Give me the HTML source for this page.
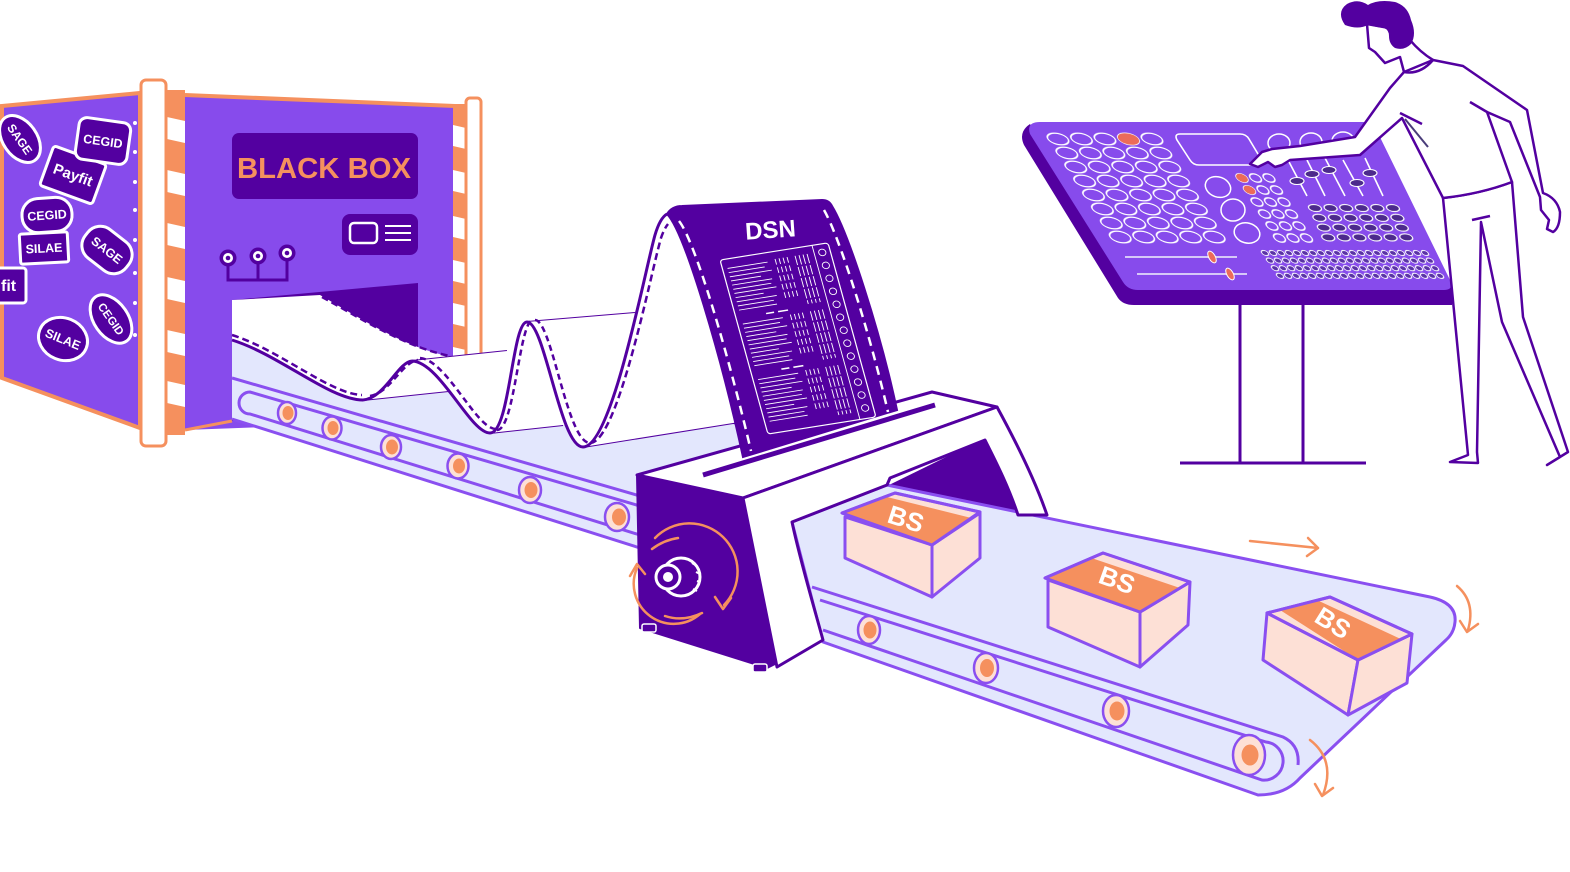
<!DOCTYPE html>
<html><head><meta charset="utf-8">
<style>
html,body{margin:0;padding:0;background:#fff;}
svg{display:block;}
text{font-family:"Liberation Sans",sans-serif;font-weight:bold;}
</style></head><body>
<svg width="1570" height="872" viewBox="0 0 1570 872" xmlns="http://www.w3.org/2000/svg">
<defs>
  <pattern id="pGridL" patternUnits="userSpaceOnUse" x="957.98" y="132" width="23.5" height="14">
    <ellipse cx="11.75" cy="7" rx="10" ry="5.8" fill="none" stroke="#fff" stroke-width="1.4"/>
  </pattern>
  <pattern id="pBtn" patternUnits="userSpaceOnUse" x="1124" y="172" width="13.5" height="12">
    <ellipse cx="6.75" cy="6" rx="5.3" ry="4.2" fill="none" stroke="#fff" stroke-width="1.3"/>
  </pattern>
  <pattern id="pDark" patternUnits="userSpaceOnUse" x="1213.6" y="203.1" width="15.6" height="9.8">
    <ellipse cx="7.8" cy="4.9" rx="6.3" ry="3.6" fill="#4c2a8c" stroke="#fff" stroke-width="1.1"/>
  </pattern>
  <pattern id="pSmall" patternUnits="userSpaceOnUse" x="1094" y="249.2" width="8" height="7.6">
    <ellipse cx="4" cy="3.8" rx="3.2" ry="2.6" fill="#5a33a6" stroke="#fff" stroke-width="1"/>
  </pattern>
</defs>

<!-- ================= BLACK BOX ================= -->
<path d="M2,106 L140,93 L140,428 L2,378 Z" fill="#874bec" stroke="#f5905e" stroke-width="4"/>
<g fill="#fff">
  <circle cx="135" cy="123" r="2"/><circle cx="135" cy="152" r="2"/><circle cx="135" cy="182" r="2"/>
  <circle cx="135" cy="210" r="2"/><circle cx="135" cy="240" r="2"/><circle cx="135" cy="273" r="2"/>
  <circle cx="135" cy="303" r="2"/><circle cx="135" cy="335" r="2"/>
</g>
<g fill="#5300a0" stroke="#fff" stroke-width="3">
  <g transform="translate(20,139) rotate(55)"><ellipse rx="26" ry="17"/><text x="0" y="4.5" font-size="12" fill="#fff" stroke="none" text-anchor="middle">SAGE</text></g>
  <g transform="translate(73,175) rotate(20)"><rect x="-28" y="-21" width="56" height="42" rx="3"/><text x="0" y="5" font-size="15" fill="#fff" stroke="none" text-anchor="middle">Payfit</text></g>
  <g transform="translate(103,141) rotate(8)"><rect x="-26" y="-21" width="52" height="42" rx="8"/><text x="0" y="4.5" font-size="12.5" fill="#fff" stroke="none" text-anchor="middle">CEGID</text></g>
  <g transform="translate(47,215) rotate(-4)"><rect x="-25" y="-17" width="50" height="34" rx="16"/><text x="0" y="4.5" font-size="12.5" fill="#fff" stroke="none" text-anchor="middle">CEGID</text></g>
  <g transform="translate(44,248) rotate(-3)"><rect x="-24" y="-15" width="48" height="30" rx="2"/><text x="0" y="4.5" font-size="12.5" fill="#fff" stroke="none" text-anchor="middle">SILAE</text></g>
  <g transform="translate(107,250) rotate(38)"><rect x="-26" y="-18" width="52" height="36" rx="16"/><text x="0" y="4.5" font-size="12.5" fill="#fff" stroke="none" text-anchor="middle">SAGE</text></g>
  <g><rect x="-10" y="268" width="36" height="35" rx="3"/><text x="1" y="291" font-size="16" fill="#fff" stroke="none">fit</text></g>
  <g transform="translate(111,319) rotate(55)"><ellipse rx="27" ry="17"/><text x="0" y="4" font-size="11.5" fill="#fff" stroke="none" text-anchor="middle">CEGID</text></g>
  <g transform="translate(63,339) rotate(22)"><ellipse rx="25" ry="21"/><text x="0" y="4.5" font-size="12.5" fill="#fff" stroke="none" text-anchor="middle">SILAE</text></g>
</g>
<rect x="166" y="90" width="19" height="345" fill="#f5905e"/>
<g fill="#fff">
  <polygon points="167,117 185,121 185,143 167,139"/>
  <polygon points="167,170 185,174 185,196 167,192"/>
  <polygon points="167,223 185,227 185,249 167,245"/>
  <polygon points="167,277 185,281 185,303 167,299"/>
  <polygon points="167,330 185,334 185,356 167,352"/>
  <polygon points="167,381 185,385 185,407 167,403"/>
</g>
<rect x="141" y="80" width="25" height="366" rx="5" fill="#fff" stroke="#f5905e" stroke-width="3"/>

<path d="M185,95 L455,106 L455,420 L185,430 Z" fill="#874bec"/>
<path d="M185,95 L455,106" stroke="#f5905e" stroke-width="4" fill="none"/>
<path d="M185,430 L232,421" stroke="#f5905e" stroke-width="3" fill="none"/>
<rect x="232" y="133" width="186" height="66" rx="7" fill="#5300a0"/>
<text x="324" y="178" font-size="29" fill="#f5905e" text-anchor="middle" textLength="174" lengthAdjust="spacingAndGlyphs">BLACK BOX</text>
<rect x="342" y="214" width="76" height="41" rx="8" fill="#5300a0"/>
<rect x="350" y="223" width="27" height="20" rx="4" fill="none" stroke="#fff" stroke-width="2.5"/>
<path d="M385,226 H411 M385,233 H411 M385,240 H411" stroke="#fff" stroke-width="2"/>
<path d="M228,266 V280 H287 V261 M258,264 V280" stroke="#5300a0" stroke-width="3" fill="none"/>
<g fill="#5300a0"><circle cx="228" cy="258" r="8.5"/><circle cx="258" cy="256" r="8.5"/><circle cx="287" cy="253" r="8.5"/></g>
<g fill="#fff"><circle cx="228" cy="258" r="5"/><circle cx="258" cy="256" r="5"/><circle cx="287" cy="253" r="5"/></g>
<g fill="#5300a0"><circle cx="228" cy="258" r="2.3"/><circle cx="258" cy="256" r="2.3"/><circle cx="287" cy="253" r="2.3"/></g>
<path d="M232,300 L418,283 L418,420 L232,421 Z" fill="#5300a0"/>

<rect x="453" y="104" width="13" height="300" fill="#f5905e"/>
<g fill="#fff">
  <polygon points="453,125 466,128 466,149 453,146"/>
  <polygon points="453,170 466,173 466,194 453,191"/>
  <polygon points="453,216 466,219 466,240 453,237"/>
  <polygon points="453,260 466,263 466,284 453,281"/>
  <polygon points="453,303 466,306 466,327 453,324"/>
  <polygon points="453,347 466,350 466,371 453,368"/>
</g>
<rect x="466" y="98" width="15" height="300" rx="4" fill="#fff" stroke="#f5905e" stroke-width="3"/>

<!-- ================= CONTROL PANEL ================= -->
<path d="M1240,300 V463 M1303,300 V463 M1180,463 H1366" stroke="#5300a0" stroke-width="3" fill="none"/>
<path d="M1030,124 Q1018,132 1024,145 L1118,298 Q1123,305 1134,305 L1452,305 L1452,284 L1130,284 Z" fill="#5300a0"/>
<path d="M1040,122 L1365,122 Q1372,122 1376,129 L1450,280 Q1454,290 1444,290 L1138,290 Q1128,290 1123,282 L1030,134 Q1026,122 1040,122 Z" fill="#874bec"/>
<g transform="matrix(1,0,0.635,1,0,0)">
  <rect x="957.98" y="132" width="117.5" height="112" fill="url(#pGridL)"/>
  <ellipse cx="1040.23" cy="139" rx="10" ry="5.8" fill="#ec6b5a"/>
</g>
<path d="M1180,134 L1240,134 Q1246,134 1249,139 L1261,159 Q1264,165 1257,165 L1199,165 Q1193,165 1190,160 L1177,140 Q1174,134 1180,134 Z" fill="none" stroke="#fff" stroke-width="1.6"/>
<g fill="none" stroke="#fff" stroke-width="1.5">
  <ellipse cx="1279" cy="143" rx="11" ry="9"/>
  <ellipse cx="1311" cy="142" rx="11" ry="9"/>
  <ellipse cx="1343" cy="141" rx="11" ry="9"/>
  <ellipse cx="1218" cy="187" rx="13" ry="10" transform="rotate(20 1218 187)"/>
  <ellipse cx="1233" cy="210" rx="12" ry="11"/>
  <ellipse cx="1247" cy="233" rx="13" ry="10" transform="rotate(15 1247 233)"/>
</g>
<g transform="matrix(1,0,0.625,1,0,0)">
  <rect x="1124" y="172" width="40.5" height="72" fill="url(#pBtn)"/>
  <ellipse cx="1130.75" cy="178" rx="5.3" ry="4.2" fill="#ec6b5a"/>
  <ellipse cx="1130.75" cy="190" rx="5.3" ry="4.2" fill="#ec6b5a"/>
</g>
<g stroke="#fff" stroke-width="1.6">
  <path d="M1288,160 L1307,196 M1307,160 L1325,196 M1325,158 L1345,196 M1343,160 L1363,196 M1365,158 L1383,196"/>
</g>
<g fill="#4c2a8c" stroke="#fff" stroke-width="1.1">
  <ellipse cx="1297" cy="181" rx="7" ry="3.5"/>
  <ellipse cx="1312" cy="174" rx="7" ry="3.5"/>
  <ellipse cx="1329" cy="170" rx="7" ry="3.5"/>
  <ellipse cx="1357" cy="183" rx="7" ry="3.5"/>
  <ellipse cx="1370" cy="173" rx="7" ry="3.5"/>
</g>
<g transform="matrix(1,0,0.45,1,0,0)">
  <rect x="1213.6" y="203.1" width="93.6" height="39.2" fill="url(#pDark)"/>
</g>
<g transform="matrix(1,0,0.66,1,0,0)">
  <rect x="1094" y="249.2" width="168" height="30.4" fill="url(#pSmall)"/>
</g>
<path d="M1125,257 H1237 M1137,274 H1247" stroke="#d6c8f8" stroke-width="2"/>
<ellipse cx="1212" cy="257" rx="3.2" ry="6.5" transform="rotate(-30 1212 257)" fill="#ec6b5a" stroke="#fff" stroke-width="1"/>
<ellipse cx="1230" cy="274" rx="3.2" ry="6.5" transform="rotate(-30 1230 274)" fill="#ec6b5a" stroke="#fff" stroke-width="1"/>

<!-- ================= PERSON ================= -->
<g fill="#fff" stroke="#5300a0" stroke-width="2.5" stroke-linejoin="round">
  <path d="M1443,198 L1468,455 L1450,462 L1478,463 L1477,452 L1481,222 L1502,322 L1560,457 L1547,465 L1568,452 L1523,317 L1512,182 Q1480,194 1443,198 Z"/>
  <path d="M1404,72 Q1420,75 1433,60 L1463,66 L1527,110 L1543,193 Q1557,198 1560,212 Q1560,228 1553,232 L1547,229 L1549,220 L1541,210 L1540,197 L1510,122 L1487,112 L1512,182 Q1480,194 1443,198 L1402,118 L1360,155 L1290,160 L1282,165 L1275,167 L1268,162 L1258,167 L1250,164 L1262,152 L1272,149 L1300,146 L1355,137 L1390,88 Z"/>
  <path d="M1367,24 L1369,48 L1375,52 L1385,63 L1400,57 L1404,72 L1433,60 Q1420,52 1410,40 L1400,30 Z"/>
</g>
<g fill="none" stroke="#5300a0" stroke-width="2.5">
  <path d="M1470,102 L1487,112"/>
  <path d="M1472,220 L1490,216"/>
  <path d="M1400,113 L1422,124"/>
</g>
<path d="M1405,119 L1428,147" stroke="#4a3d7a" stroke-width="2"/>
<path d="M1345,25 Q1336,12 1347,4 Q1358,-2 1368,5 Q1378,-1 1395,2 Q1408,6 1411,20 Q1417,34 1411,44 Q1404,51 1395,48 Q1389,44 1389,36 Q1389,30 1384,28 Q1376,27 1368,25 Q1358,30 1345,25 Z" fill="#5300a0"/>

<!-- ================= LEFT CONVEYOR ================= -->
<path d="M232,337 L745,425 L745,520 L637,548 L232,419 Z" fill="#e3e7fd"/>
<path d="M232,337 L745,425" stroke="#5300a0" stroke-width="2" fill="none"/>
<g fill="none" stroke="#8a4ff0" stroke-width="3">
  <path d="M232,378 L640,496"/>
  <path d="M640,506 L250,392 A11,11 0 0 0 250,414 L640,535"/>
  <path d="M232,419 L640,548"/>
</g>
<g stroke="#8a4ff0" stroke-width="2.5" fill="#fde0d6">
  <ellipse cx="287" cy="413" rx="9" ry="11"/>
  <ellipse cx="332" cy="428" rx="9.5" ry="11.5"/>
  <ellipse cx="391" cy="447" rx="10" ry="12"/>
  <ellipse cx="458" cy="466" rx="10.5" ry="12.5"/>
  <ellipse cx="530" cy="490" rx="11" ry="13"/>
  <ellipse cx="617" cy="517" rx="12" ry="14"/>
</g>
<g fill="#f5905e">
  <ellipse cx="288" cy="413" rx="5.5" ry="7"/>
  <ellipse cx="333" cy="428" rx="5.5" ry="7"/>
  <ellipse cx="392" cy="447" rx="6" ry="7.5"/>
  <ellipse cx="459" cy="466" rx="6" ry="7.5"/>
  <ellipse cx="531" cy="490" rx="6.5" ry="8"/>
  <ellipse cx="619" cy="517" rx="7" ry="8.5"/>
</g>

<!-- ================= PAPER ================= -->
<g stroke-linejoin="round">
  <path d="M232,300 L320,295 C360,318 405,348 452,357 L458,390 L363,400 C330,400 280,355 232,340 Z" fill="#fff"/>
  <path d="M232,340 C280,355 330,400 363,400" stroke="#5300a0" stroke-width="3" fill="none"/>
  <path d="M232,335 C280,350 330,394 362,395" stroke="#5300a0" stroke-width="2.5" stroke-dasharray="7 4" fill="none"/>
  <path d="M322,297 C362,319 405,347 450,356" stroke="#5300a0" stroke-width="2.5" stroke-dasharray="7 4" fill="none"/>
  <path d="M363,400 L458,390" stroke="#5300a0" stroke-width="2" fill="none"/>
  <path d="M363,400 C385,398 398,362 412,361 L507,351 C493,352 480,388 458,390 Z" fill="#fff"/>
  <path d="M363,400 C385,398 398,362 412,361" stroke="#5300a0" stroke-width="3" fill="none"/>
  <path d="M370,396 C390,393 402,362 418,360" stroke="#5300a0" stroke-width="2.5" stroke-dasharray="6 4" fill="none"/>
  <path d="M412,361 L507,351" stroke="#5300a0" stroke-width="2" fill="none"/>
  <path d="M412,361 C440,362 470,433 490,433 L563,425 C540,424 530,352 507,351 Z" fill="#fff"/>
  <path d="M412,361 C440,362 470,433 490,433" stroke="#5300a0" stroke-width="3" fill="none"/>
  <path d="M420,358 C447,360 476,429 496,429" stroke="#5300a0" stroke-width="2.5" stroke-dasharray="6 4" fill="none"/>
  <path d="M490,433 L563,425" stroke="#5300a0" stroke-width="2" fill="none"/>
  <path d="M490,433 C510,433 512,322 527,322 L635,313 C620,313 590,425 563,425 Z" fill="#fff"/>
  <path d="M490,433 C510,433 512,322 527,322" stroke="#5300a0" stroke-width="3" fill="none"/>
  <path d="M497,430 C515,430 519,320 533,320" stroke="#5300a0" stroke-width="2.5" stroke-dasharray="6 4" fill="none"/>
  <path d="M527,322 L635,313" stroke="#5300a0" stroke-width="2" fill="none"/>
  <path d="M527,322 C545,322 560,447 583,447 L733,423 C700,423 660,313 635,313 Z" fill="#fff"/>
  <path d="M527,322 C545,322 560,447 583,447" stroke="#5300a0" stroke-width="3" fill="none"/>
  <path d="M535,320 C552,320 567,443 590,443" stroke="#5300a0" stroke-width="2.5" stroke-dasharray="6 4" fill="none"/>
  <path d="M583,447 L733,423" stroke="#5300a0" stroke-width="2" fill="none"/>
  <path d="M583,447 C612,447 645,270 655,235 Q660,218 667,214 L832,204 C800,240 770,420 733,423 Z" fill="#fff"/>
  <path d="M583,447 C612,447 645,270 655,235 Q660,218 667,214" stroke="#5300a0" stroke-width="3" fill="none"/>
  <path d="M590,443 C618,443 651,272 661,238 Q664,229 668,224" stroke="#5300a0" stroke-width="2.5" stroke-dasharray="7 4" fill="none"/>
</g>

<path d="M885,487 L987,437 L1022,518 L900,520 Z" fill="#5300a0"/>

<!-- ================= RIGHT CONVEYOR ================= -->
<path d="M792,522 L887,485 L1430,597 Q1457,603 1455,622 Q1454,633 1446,640 L1300,778 Q1285,795 1258,795 L823,642 Z" fill="#e3e7fd" stroke="#8a4ff0" stroke-width="3" stroke-linejoin="round"/>
<g fill="none" stroke="#8a4ff0" stroke-width="3">
  <path d="M812,587 L1283,737 Q1300,745 1298,765"/>
  <path d="M820,600 L1266,742 A19,19 0 0 1 1262,780 L823,630"/>
</g>
<g stroke="#8a4ff0" stroke-width="2.5" fill="#fde0d6">
  <ellipse cx="869" cy="630" rx="11" ry="14"/>
  <ellipse cx="986" cy="668" rx="12" ry="15"/>
  <ellipse cx="1116" cy="711" rx="13" ry="16"/>
  <ellipse cx="1249" cy="755" rx="16" ry="20"/>
</g>
<g fill="#f5905e">
  <ellipse cx="870" cy="630" rx="6.5" ry="8.5"/>
  <ellipse cx="987" cy="668" rx="7" ry="9"/>
  <ellipse cx="1117" cy="711" rx="7.5" ry="9.5"/>
  <ellipse cx="1250" cy="755" rx="8.5" ry="10.5"/>
</g>

<!-- ================= PRINTER ================= -->
<path d="M637,475 L932,392 L997,407 L743,498 Z" fill="#fff" stroke="#5300a0" stroke-width="3" stroke-linejoin="round"/>
<path d="M703,475 L935,405" stroke="#5300a0" stroke-width="5"/>

<path d="M667,214 Q672,206 682,206 L822,200 Q829,200 832,206 C848,232 880,330 897,410 L743,457 C722,360 685,232 667,214 Z" fill="#5300a0" stroke="#5300a0" stroke-width="2"/>
<path d="M679,221 C696,242 731,365 751,451" stroke="#fff" stroke-width="2.5" stroke-dasharray="9 6" fill="none"/>
<path d="M824,210 C839,236 869,330 888,412" stroke="#fff" stroke-width="2.5" stroke-dasharray="9 6" fill="none"/>
<text x="771" y="238" font-size="24" fill="#fff" text-anchor="middle" transform="rotate(-4 771 238)">DSN</text>
<g transform="matrix(1,-0.159,0.255,0.926,720,260)" fill="none" stroke="#fff">
  <rect x="0" y="0" width="108" height="188" rx="3" stroke-width="1.2"/>
  <path d="M92,0 V188" stroke-width="0.9"/>
  <g stroke-width="0.9">
    <circle cx="100" cy="9" r="3.5"/><circle cx="100" cy="23" r="3.5"/><circle cx="100" cy="37" r="3.5"/>
    <circle cx="100" cy="51" r="3.5"/><circle cx="100" cy="65" r="3.5"/><circle cx="100" cy="79" r="3.5"/>
    <circle cx="100" cy="93" r="3.5"/><circle cx="100" cy="107" r="3.5"/><circle cx="100" cy="121" r="3.5"/>
    <circle cx="100" cy="135" r="3.5"/><circle cx="100" cy="149" r="3.5"/><circle cx="100" cy="163" r="3.5"/>
    <circle cx="100" cy="177" r="3.5"/>
  </g>
  <g stroke-width="0.9">
    <path d="M5,10h40M5,14.5h36M5,19h42M5,23.5h30M5,28h40M5,32.5h38M5,37h42M5,41.5h28M5,46h40M5,50.5h36M5,55h38"/>
    <path d="M5,70h40M5,74.5h36M5,79h42M5,83.5h30M5,88h40M5,92.5h38M5,97h42M5,101.5h28M5,106h40M5,110.5h36M5,115h38"/>
    <path d="M5,130h40M5,134.5h36M5,139h42M5,143.5h30M5,148h40M5,152.5h38M5,157h42M5,161.5h28M5,166h40M5,170.5h36M5,175h38"/>
    <path d="M30,63h8M42,63h10M30,123h8M42,123h10" stroke-width="1.6"/>
  </g>
  <g stroke-width="0.9" stroke-dasharray="6 3">
    <path d="M53,8v45M57,8v45M61,8v45M65,8v45M53,68v45M57,68v45M61,68v45M65,68v45M53,128v45M57,128v45M61,128v45M65,128v45"/>
  </g>
  <g stroke-width="0.9" stroke-dasharray="10 2">
    <path d="M73,8v52M77,8v52M81,8v52M85,8v52M73,68v52M77,68v52M81,68v52M85,68v52M73,128v52M77,128v52M81,128v52M85,128v52"/>
  </g>
</g>

<path d="M637,475 L743,498 C755,560 768,620 777,663 L767,668 L640,628 Z" fill="#5300a0" stroke="#5300a0" stroke-width="2" stroke-linejoin="round"/>
<rect x="642" y="624" width="14" height="8" rx="2" fill="#5300a0" stroke="#fff" stroke-width="1.5"/>
<rect x="753" y="664" width="14" height="8" rx="2" fill="#5300a0" stroke="#fff" stroke-width="1.5"/>
<circle cx="681" cy="577" r="19" fill="#5300a0" stroke="#fff" stroke-width="3"/>
<path d="M692,563 L697,566 M696,572 L700,574 M697,581 L700,582 M693,589 L697,591" stroke="#fff" stroke-width="2"/>
<circle cx="668" cy="577" r="12" fill="#5300a0" stroke="#fff" stroke-width="3"/>
<circle cx="668" cy="577" r="5" fill="#fff"/>
<g fill="none" stroke="#f5905e" stroke-width="2.5" stroke-linecap="round" stroke-linejoin="round">
  <path d="M655,538 A45,45 0 0 1 724,605"/>
  <path d="M715,597 L723,609 L731,598"/>
  <path d="M700,614 A40,40 0 0 1 637,568"/>
  <path d="M630,576 L637,564 L645,574"/>
  <path d="M652,549 Q664,540 678,538"/>
  <path d="M665,616 Q683,622 702,613"/>
</g>

<path d="M743,498 L997,407 C1015,440 1035,480 1047,515 L1018,515 C1008,485 995,460 985,440 L890,478 L887,485 L792,522 C800,560 812,600 823,640 L777,667 C768,620 755,560 743,498 Z" fill="#fff" stroke="#5300a0" stroke-width="3" stroke-linejoin="round"/>

<!-- ================= BOXES ================= -->
<g stroke="#8a4ff0" stroke-width="3" stroke-linejoin="round">
  <polygon points="845,517 932,545 932,597 845,558" fill="#fde0d6"/>
  <polygon points="932,545 980,513 980,558 932,597" fill="#fde0d6"/>
  <polygon points="842,513 895,493 980,512 932,545" fill="#fde0d6"/>
  <polygon points="842,513 885.5,496.6 971.4,518 932,545" fill="#f5905e" stroke="none"/>
  <polygon points="842,513 895,493 980,512 932,545" fill="none"/>
  <polygon points="1048,580 1140,612 1140,667 1048,627" fill="#fde0d6"/>
  <polygon points="1140,612 1190,582 1188,625 1140,667" fill="#fde0d6"/>
  <polygon points="1045,578 1103,553 1190,582 1140,612" fill="#fde0d6"/>
  <polygon points="1045,578 1091.4,558 1180,588 1140,612" fill="#f5905e" stroke="none"/>
  <polygon points="1045,578 1103,553 1190,582 1140,612" fill="none"/>
  <polygon points="1267,613 1358,660 1348,715 1263,660" fill="#fde0d6"/>
  <polygon points="1358,660 1412,634 1407,683 1348,715" fill="#fde0d6"/>
  <polygon points="1267,613 1330,597 1412,634 1358,660" fill="#fde0d6"/>
  <polygon points="1280,610 1317.4,600.2 1401.2,639.2 1358,660" fill="#f5905e" stroke="none"/>
  <polygon points="1267,613 1330,597 1412,634 1358,660" fill="none"/>
</g>
<text x="906" y="528" font-size="26" fill="#fff" text-anchor="middle" transform="rotate(18 906 519)">BS</text>
<text x="1117" y="589" font-size="26" fill="#fff" text-anchor="middle" transform="rotate(20 1117 580)">BS</text>
<text x="1333" y="632" font-size="26" fill="#fff" text-anchor="middle" transform="rotate(32 1333 623)">BS</text>

<g fill="none" stroke="#f5905e" stroke-width="2.5" stroke-linecap="round" stroke-linejoin="round">
  <path d="M1250,541 L1318,548"/>
  <path d="M1308,538 L1318,548 L1307,556"/>
  <path d="M1457,586 Q1476,602 1468,630"/>
  <path d="M1460,621 L1467,632 L1478,624"/>
  <path d="M1310,740 Q1336,760 1323,795"/>
  <path d="M1315,784 L1322,796 L1333,788"/>
</g>
</svg>
</body></html>
